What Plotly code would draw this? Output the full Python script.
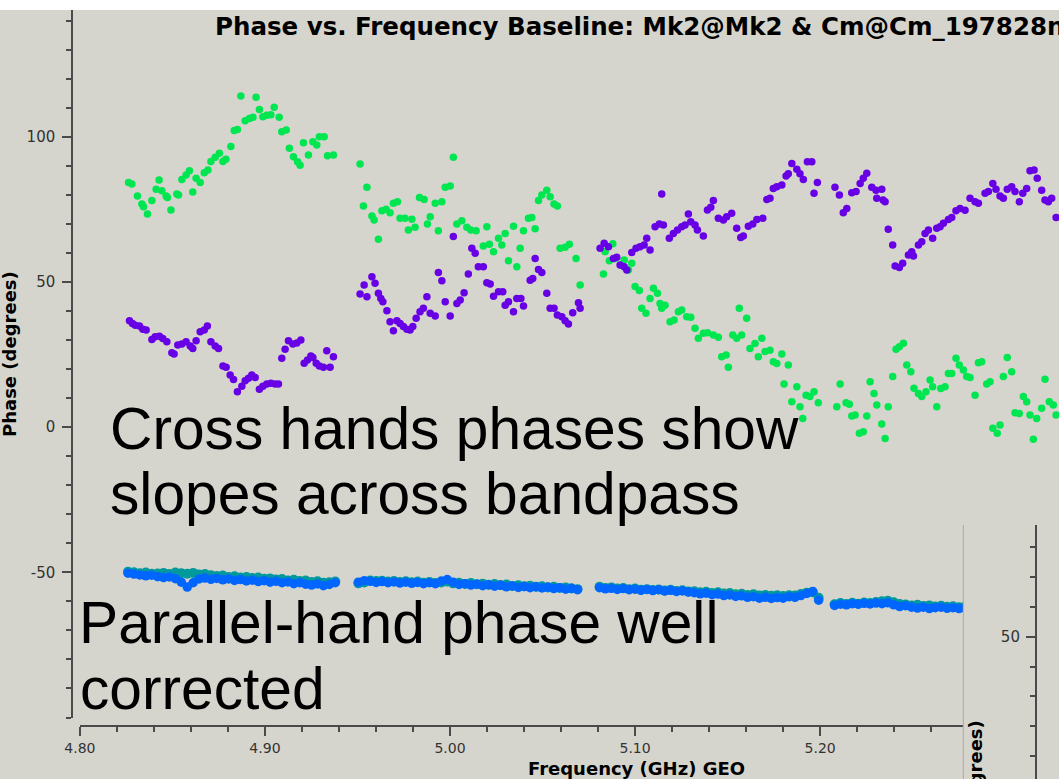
import plotly.graph_objects as go

W, H = 1059, 779

# ---------------------------------------------------------------------------
# Cross-hand correlations (one point per channel, four spectral windows)
# ---------------------------------------------------------------------------
rl_spw1_freq = [4.8263, 4.8281, 4.8311, 4.8335, 4.8344, 4.8365, 4.8389, 4.8412, 4.8428, 4.8443,
                4.8466, 4.8473, 4.8492, 4.8524, 4.8533, 4.8551, 4.8574, 4.8592, 4.8610, 4.8628,
                4.8650, 4.8672, 4.8692, 4.8708, 4.8731, 4.8754, 4.8773, 4.8789, 4.8816, 4.8834,
                4.8851, 4.8870, 4.8893, 4.8916, 4.8935, 4.8952, 4.8970, 4.8989, 4.9010, 4.9032,
                4.9050, 4.9077, 4.9091, 4.9115, 4.9132, 4.9154, 4.9176, 4.9190, 4.9208, 4.9235,
                4.9259, 4.9280, 4.9294, 4.9320, 4.9338, 4.9370]
rl_spw1_phase = [84.2, 83.7, 79.6, 76.8, 75.9, 73.4, 78.0, 81.9, 85.1, 81.4,
                 79.6, 79.1, 74.8, 80.3, 79.9, 85.3, 86.8, 88.3, 81.0, 85.7,
                 84.2, 87.6, 88.5, 91.5, 92.9, 94.3, 91.5, 92.2, 96.6, 102.1,
                 102.5, 114.0, 105.5, 106.3, 106.7, 113.6, 109.4, 106.9, 107.4, 107.6,
                 110.1, 106.7, 101.7, 102.3, 96.0, 93.1, 91.4, 90.2, 97.9, 93.7,
                 98.3, 97.1, 100.0, 100.0, 93.4, 93.7]

rl_spw2_freq = [4.9514, 4.9532, 4.9551, 4.9578, 4.9590, 4.9613, 4.9632, 4.9655, 4.9676, 4.9694,
                4.9716, 4.9730, 4.9757, 4.9775, 4.9794, 4.9811, 4.9835, 4.9860, 4.9878, 4.9893,
                4.9920, 4.9937, 4.9956, 4.9974, 5.0001, 5.0018, 5.0037, 5.0064, 5.0091, 5.0112,
                5.0141, 5.0180, 5.0199, 5.0213, 5.0235, 5.0262, 5.0280, 5.0298, 5.0316, 5.0343,
                5.0361, 5.0379, 5.0397, 5.0424, 5.0442, 5.0460, 5.0478, 5.0496, 5.0523, 5.0541,
                5.0562, 5.0580, 5.0595, 5.0622, 5.0645, 5.0681, 5.0703]
rl_spw2_phase = [90.6, 76.1, 82.6, 72.7, 71.3, 64.7, 74.5, 75.0, 73.8, 77.1,
                 77.6, 71.9, 71.9, 67.9, 71.6, 68.8, 79.1, 78.4, 69.9, 72.4,
                 77.1, 67.6, 77.6, 82.6, 83.0, 92.9, 69.9, 71.1, 68.8, 67.9,
                 67.6, 62.4, 69.0, 63.0, 60.4, 65.0, 62.7, 66.7, 57.3, 69.2,
                 55.2, 61.6, 67.6, 71.9, 72.2, 68.3, 78.0, 79.9, 81.6, 79.3,
                 76.8, 76.1, 61.6, 61.9, 63.0, 58.1, 48.9]

rl_spw3_freq = [5.0829, 5.0838, 5.0861, 5.0880, 5.0892, 5.0923, 5.0941, 5.0964, 5.0982, 5.1000,
                5.1023, 5.1036, 5.1059, 5.1081, 5.1099, 5.1121, 5.1135, 5.1144, 5.1162, 5.1189,
                5.1211, 5.1234, 5.1252, 5.1279, 5.1301, 5.1324, 5.1342, 5.1369, 5.1391, 5.1423,
                5.1450, 5.1468, 5.1492, 5.1504, 5.1528, 5.1549, 5.1563, 5.1576, 5.1603, 5.1621,
                5.1648, 5.1666, 5.1685, 5.1702, 5.1729, 5.1747, 5.1766, 5.1793, 5.1805, 5.1828,
                5.1847, 5.1874, 5.1891, 5.1906, 5.1924, 5.1945, 5.1967, 5.1990]
rl_spw3_phase = [52.7, 60.4, 57.3, 63.1, 58.1, 55.8, 57.5, 54.1, 56.4, 48.4,
                 47.0, 40.9, 39.2, 44.3, 47.8, 46.1, 42.6, 40.9, 42.0, 36.3,
                 36.9, 39.7, 40.3, 38.0, 37.8, 34.0, 30.6, 32.3, 32.5, 31.7,
                 30.9, 24.2, 24.8, 20.6, 31.7, 30.6, 40.9, 31.7, 37.5, 27.1,
                 28.8, 24.2, 30.6, 26.0, 26.5, 22.5, 21.9, 25.2, 14.8, 21.4,
                 8.7, 13.9, 7.0, 3.0, 11.0, 10.5, 12.2, 8.4]

rl_spw4_freq = [5.2090, 5.2108, 5.2140, 5.2158, 5.2171, 5.2189, 5.2212, 5.2233, 5.2252, 5.2270,
                5.2291, 5.2306, 5.2333, 5.2351, 5.2368, 5.2392, 5.2410, 5.2428, 5.2450, 5.2468,
                5.2490, 5.2507, 5.2531, 5.2549, 5.2572, 5.2594, 5.2608, 5.2630, 5.2652, 5.2675,
                5.2693, 5.2711, 5.2734, 5.2752, 5.2774, 5.2792, 5.2810, 5.2837, 5.2855, 5.2873,
                5.2900, 5.2918, 5.2933, 5.2957, 5.2972, 5.2990, 5.3011, 5.3035, 5.3053, 5.3076,
                5.3098, 5.3116, 5.3134, 5.3152, 5.3170, 5.3197, 5.3215, 5.3238, 5.3260, 5.3275]
rl_spw4_phase = [7.0, 14.8, 8.4, 7.9, 3.8, 4.2, -2.1, -1.6, 3.8, 15.6,
                 11.6, 7.6, 1.1, -3.9, 7.0, 17.4, 26.8, 27.7, 28.9, 21.4,
                 19.1, 13.4, 11.6, 10.5, 12.2, 16.2, 13.9, 7.0, 13.3, 13.9,
                 18.5, 18.5, 23.7, 21.4, 19.7, 17.4, 17.1, 11.0, 22.2, 22.5,
                 14.8, 15.6, -0.4, -2.1, 0.7, 17.4, 24.0, 19.1, 4.9, 4.7,
                 10.5, 8.7, 4.2, -4.2, 3.0, 6.5, 16.5, 8.7, 7.6, 4.2]

lr_spw1_freq = [4.8268, 4.8284, 4.8299, 4.8322, 4.8340, 4.8358, 4.8389, 4.8407, 4.8430, 4.8448,
                4.8470, 4.8497, 4.8509, 4.8529, 4.8551, 4.8574, 4.8596, 4.8610, 4.8628, 4.8650,
                4.8672, 4.8689, 4.8708, 4.8731, 4.8749, 4.8773, 4.8790, 4.8812, 4.8830, 4.8851,
                4.8875, 4.8893, 4.8911, 4.8929, 4.8947, 4.8970, 4.8989, 4.9010, 4.9032, 4.9055,
                4.9073, 4.9091, 4.9109, 4.9127, 4.9151, 4.9172, 4.9194, 4.9212, 4.9230, 4.9248,
                4.9259, 4.9277, 4.9294, 4.9316, 4.9334, 4.9352, 4.9370]
lr_spw1_phase = [36.6, 35.7, 35.1, 34.8, 33.7, 33.4, 30.2, 31.1, 31.3, 30.5,
                 29.4, 25.6, 25.2, 28.3, 28.6, 29.4, 27.9, 27.1, 29.7, 32.8,
                 33.4, 34.8, 29.4, 27.9, 27.1, 21.0, 20.6, 17.9, 16.4, 12.2,
                 14.1, 16.0, 16.8, 17.9, 17.1, 13.0, 14.1, 14.8, 15.1, 14.8,
                 14.8, 23.7, 26.8, 29.7, 28.6, 29.0, 30.0, 22.0, 23.1, 24.5,
                 24.0, 22.0, 21.0, 20.6, 26.3, 20.6, 24.2]

lr_spw2_freq = [4.9514, 4.9536, 4.9551, 4.9578, 4.9595, 4.9613, 4.9626, 4.9637, 4.9659, 4.9676,
                4.9694, 4.9713, 4.9730, 4.9748, 4.9767, 4.9784, 4.9799, 4.9817, 4.9838, 4.9856,
                4.9875, 4.9893, 4.9920, 4.9937, 4.9956, 4.9974, 5.0001, 5.0018, 5.0037, 5.0055,
                5.0076, 5.0099, 5.0118, 5.0136, 5.0153, 5.0180, 5.0199, 5.0217, 5.0235, 5.0262,
                5.0285, 5.0298, 5.0316, 5.0343, 5.0361, 5.0383, 5.0397, 5.0433, 5.0447, 5.0460,
                5.0478, 5.0496, 5.0523, 5.0541, 5.0562, 5.0580, 5.0604, 5.0622, 5.0640, 5.0663,
                5.0694, 5.0703]
lr_spw2_phase = [45.8, 48.9, 44.9, 51.8, 49.5, 46.1, 44.3, 43.2, 40.1, 36.3,
                 33.2, 36.6, 35.7, 34.6, 33.7, 33.4, 34.6, 37.5, 39.7, 40.9,
                 44.9, 39.2, 38.3, 53.2, 50.4, 43.2, 38.3, 65.6, 42.6, 43.8,
                 46.3, 52.7, 61.6, 59.9, 55.2, 55.2, 49.7, 49.3, 45.1, 46.6,
                 46.6, 42.0, 43.2, 39.7, 44.3, 44.3, 41.7, 50.6, 51.2, 58.1,
                 54.3, 53.2, 46.1, 40.9, 40.9, 38.6, 38.0, 36.6, 35.5, 39.4,
                 42.8, 40.9]

lr_spw3_freq = [5.0811, 5.0833, 5.0856, 5.0883, 5.0901, 5.0919, 5.0941, 5.0955, 5.0982, 5.1005,
                5.1027, 5.1049, 5.1063, 5.1081, 5.1108, 5.1131, 5.1144, 5.1153, 5.1185, 5.1207,
                5.1229, 5.1252, 5.1270, 5.1288, 5.1301, 5.1324, 5.1337, 5.1369, 5.1391, 5.1409,
                5.1423, 5.1450, 5.1477, 5.1495, 5.1522, 5.1549, 5.1571, 5.1585, 5.1612, 5.1636,
                5.1658, 5.1690, 5.1712, 5.1729, 5.1747, 5.1766, 5.1793, 5.1816, 5.1828, 5.1847,
                5.1874, 5.1891, 5.1909, 5.1931, 5.1955, 5.1967, 5.1985]
lr_spw3_phase = [61.6, 63.3, 62.1, 58.1, 58.5, 55.8, 55.2, 54.1, 60.1, 61.6,
                 62.1, 62.7, 65.0, 61.0, 69.0, 69.9, 80.3, 69.6, 65.0, 66.7,
                 67.9, 69.0, 69.6, 73.4, 70.7, 69.6, 67.9, 65.8, 74.8, 75.7,
                 78.0, 71.9, 71.3, 72.4, 73.6, 68.5, 65.3, 65.8, 69.2, 69.9,
                 71.5, 71.9, 78.4, 78.8, 82.2, 82.8, 83.4, 86.5, 87.2, 90.8,
                 88.8, 87.2, 85.3, 91.4, 91.4, 80.5, 84.2]

lr_spw4_freq = [5.2080, 5.2104, 5.2125, 5.2144, 5.2171, 5.2194, 5.2216, 5.2233, 5.2252, 5.2279,
                5.2302, 5.2306, 5.2333, 5.2340, 5.2351, 5.2368, 5.2392, 5.2405, 5.2428, 5.2446,
                5.2477, 5.2495, 5.2504, 5.2531, 5.2549, 5.2567, 5.2585, 5.2608, 5.2630, 5.2648,
                5.2666, 5.2693, 5.2711, 5.2734, 5.2756, 5.2783, 5.2810, 5.2837, 5.2855, 5.2891,
                5.2909, 5.2933, 5.2950, 5.2972, 5.2990, 5.3011, 5.3035, 5.3053, 5.3076, 5.3095,
                5.3116, 5.3134, 5.3156, 5.3173, 5.3197, 5.3215, 5.3233, 5.3251, 5.3275]
lr_spw4_phase = [82.6, 79.9, 73.8, 75.3, 80.7, 81.1, 83.9, 85.7, 87.4, 82.6,
                 81.6, 78.8, 81.9, 78.2, 77.6, 68.1, 62.7, 55.5, 55.0, 56.4,
                 59.3, 60.4, 58.9, 62.7, 63.8, 66.7, 67.9, 65.0, 68.5, 69.0,
                 70.2, 71.5, 72.2, 74.5, 75.3, 74.7, 78.8, 77.6, 77.1, 80.5,
                 81.1, 83.9, 81.9, 79.6, 78.8, 81.9, 82.8, 81.1, 77.6, 80.5,
                 82.2, 88.3, 88.5, 85.7, 81.6, 78.2, 77.6, 78.8, 72.2]

# ---------------------------------------------------------------------------
# Parallel-hand correlations (shared channel grid per spectral window)
# ---------------------------------------------------------------------------
par_spw1_freq = [4.8260, 4.8292, 4.8324, 4.8356, 4.8388, 4.8420, 4.8452, 4.8484, 4.8516, 4.8548,
                 4.8580, 4.8612, 4.8644, 4.8676, 4.8708, 4.8740, 4.8772, 4.8804, 4.8836, 4.8868,
                 4.8900, 4.8932, 4.8964, 4.8996, 4.9028, 4.9060, 4.9092, 4.9124, 4.9156, 4.9188,
                 4.9220, 4.9252, 4.9284, 4.9316, 4.9348, 4.9380]
rr_spw1_phase = [-50.3, -50.6, -50.9, -51.2, -51.0, -51.5, -51.8, -51.6, -52.2, -53.4,
                 -55.1, -53.6, -52.3, -52.0, -52.4, -52.1, -52.6, -52.3, -52.8, -52.5,
                 -53.0, -52.7, -53.2, -52.9, -53.4, -53.1, -53.6, -53.3, -53.9, -53.6,
                 -54.1, -54.4, -54.0, -54.6, -54.2, -53.6]
ll_spw1_phase = [-49.8, -50.0, -50.3, -50.1, -50.5, -50.4, -50.2, -50.6, -50.1, -50.3,
                 -50.5, -50.2, -50.8, -50.6, -51.0, -51.3, -51.1, -51.6, -51.4, -51.8,
                 -51.6, -52.0, -51.8, -52.2, -52.1, -52.5, -52.3, -52.8, -52.6, -53.0,
                 -52.8, -53.3, -53.1, -53.6, -53.4, -53.2]

par_spw2_freq = [4.9505, 4.9537, 4.9569, 4.9601, 4.9633, 4.9665, 4.9697, 4.9729, 4.9761, 4.9793,
                 4.9825, 4.9857, 4.9889, 4.9921, 4.9953, 4.9985, 5.0017, 5.0049, 5.0081, 5.0113,
                 5.0145, 5.0177, 5.0209, 5.0241, 5.0273, 5.0305, 5.0337, 5.0369, 5.0401, 5.0433,
                 5.0465, 5.0497, 5.0529, 5.0561, 5.0593, 5.0625, 5.0657, 5.0689]
rr_spw2_phase = [-53.4, -52.9, -53.1, -53.5, -53.2, -53.6, -53.3, -53.7, -53.4, -53.8,
                 -53.5, -53.9, -53.6, -53.9, -53.0, -52.5, -53.4, -54.2, -53.9, -54.4,
                 -54.1, -54.6, -54.3, -54.8, -54.5, -55.0, -54.7, -55.2, -54.9, -55.3,
                 -55.0, -55.4, -55.1, -55.6, -55.3, -55.8, -55.5, -56.0]
ll_spw2_phase = [-53.8, -53.5, -52.8, -53.0, -52.9, -53.2, -53.0, -53.3, -53.1, -53.4,
                 -53.2, -53.6, -53.3, -53.7, -53.5, -53.2, -53.8, -53.6, -54.0, -53.7,
                 -54.1, -53.9, -54.3, -54.0, -54.4, -54.2, -54.7, -54.5, -54.8, -54.6,
                 -55.0, -54.8, -55.2, -55.0, -55.4, -55.2, -55.6, -55.8]

par_spw3_freq = [5.0808, 5.0840, 5.0872, 5.0904, 5.0936, 5.0968, 5.1000, 5.1032, 5.1064, 5.1096,
                 5.1128, 5.1160, 5.1192, 5.1224, 5.1256, 5.1288, 5.1320, 5.1352, 5.1384, 5.1416,
                 5.1448, 5.1480, 5.1512, 5.1544, 5.1576, 5.1608, 5.1640, 5.1672, 5.1704, 5.1736,
                 5.1768, 5.1800, 5.1832, 5.1864, 5.1896, 5.1928, 5.1960, 5.1992]
rr_spw3_phase = [-55.3, -55.7, -55.5, -55.9, -55.6, -56.0, -55.8, -56.2, -55.9, -56.3,
                 -56.0, -56.4, -56.2, -56.6, -56.4, -56.8, -57.0, -57.4, -57.2, -57.7,
                 -57.5, -58.0, -57.8, -58.3, -58.1, -58.6, -58.4, -58.9, -58.6, -59.0,
                 -58.7, -58.9, -58.4, -58.6, -58.0, -57.3, -56.6, -59.6]
ll_spw3_phase = [-55.0, -55.4, -55.2, -55.6, -55.4, -55.8, -55.6, -56.0, -55.8, -56.1,
                 -55.9, -56.3, -56.0, -56.4, -56.2, -56.6, -56.5, -56.9, -56.7, -57.1,
                 -56.9, -57.3, -57.1, -57.6, -57.4, -57.8, -57.6, -58.0, -57.8, -58.1,
                 -57.9, -58.2, -57.9, -58.0, -57.5, -57.0, -56.9, -58.8]

par_spw4_freq = [5.2078, 5.2110, 5.2142, 5.2174, 5.2206, 5.2238, 5.2270, 5.2302, 5.2334, 5.2366,
                 5.2398, 5.2430, 5.2462, 5.2494, 5.2526, 5.2558, 5.2590, 5.2622, 5.2654, 5.2686,
                 5.2718, 5.2750, 5.2782, 5.2814, 5.2846]
rr_spw4_phase = [-61.4, -61.0, -61.2, -60.8, -61.0, -60.7, -60.9, -60.6, -60.8, -60.5,
                 -61.2, -61.8, -61.5, -62.0, -62.3, -62.0, -62.5, -62.2, -62.0, -62.4,
                 -62.2, -62.5, -62.3, -62.6, -62.4]
ll_spw4_phase = [-61.0, -60.6, -60.9, -60.5, -60.8, -60.4, -60.6, -60.2, -60.0, -59.8,
                 -60.3, -60.9, -61.1, -61.4, -61.2, -61.6, -61.4, -61.8, -61.5, -61.9,
                 -61.7, -62.0, -61.8, -62.1, -62.0]

rl_freq = rl_spw1_freq + rl_spw2_freq + rl_spw3_freq + rl_spw4_freq
rl_phase = rl_spw1_phase + rl_spw2_phase + rl_spw3_phase + rl_spw4_phase
lr_freq = lr_spw1_freq + lr_spw2_freq + lr_spw3_freq + lr_spw4_freq
lr_phase = lr_spw1_phase + lr_spw2_phase + lr_spw3_phase + lr_spw4_phase
par_freq = par_spw1_freq + par_spw2_freq + par_spw3_freq + par_spw4_freq
rr_phase = rr_spw1_phase + rr_spw2_phase + rr_spw3_phase + rr_spw4_phase
ll_phase = ll_spw1_phase + ll_spw2_phase + ll_spw3_phase + ll_spw4_phase
assert len(rl_freq) == len(rl_phase) and len(lr_freq) == len(lr_phase)
assert len(par_freq) == len(rr_phase) == len(ll_phase)

# ---------------------------------------------------------------------------
# Geometry (pixels on the 1059 x 779 canvas)
# ---------------------------------------------------------------------------
def px_x(x):
    return x / W


def px_y(y):
    return 1 - y / H


F0, X0, PX_PER_GHZ = 4.80, 79.7, 1851.0      # frequency scale
X_END = 963.0                                # right end of the frequency axis line
DEG_REF, Y_REF, PX_PER_DEG = 100.0, 136.7, 2.904
Y_TOP, Y_BOT = 10.0, 718.0                   # phase axis extent
X_AXIS_Y = 726.0
Y_AXIS_X = 72.0

x_range = [F0 - 0.0001, F0 + (X_END - X0) / PX_PER_GHZ]
x2_range = [F0 - 0.0001, F0 + (W - X0) / PX_PER_GHZ]
y_range = [DEG_REF - (Y_BOT - Y_REF) / PX_PER_DEG, DEG_REF + (Y_REF - Y_TOP) / PX_PER_DEG]

BG = "#d6d5cd"
AX = "#4a4a4a"
XTICKFONT = dict(family="DejaVu Sans", size=14, color="#333333")
YTICKFONT = dict(family="DejaVu Sans", size=15, color="#333333")
GREEN = "#00e650"
PURPLE = "#6800e6"
BLUE = "#0066ff"
TEAL = "#00999c"

fig = go.Figure()

# parallel hands: clipped at the end of the frequency axis
fig.add_trace(go.Scatter(x=par_freq, y=ll_phase, mode="markers", name="LL",
                         marker=dict(color=TEAL, size=10, line=dict(width=0)),
                         xaxis="x", yaxis="y"))
fig.add_trace(go.Scatter(x=par_freq, y=rr_phase, mode="markers", name="RR",
                         marker=dict(color=BLUE, size=9.5, line=dict(width=0)),
                         xaxis="x", yaxis="y"))
# cross hands: drawn on a wider copy of the frequency scale
fig.add_trace(go.Scatter(x=rl_freq, y=rl_phase, mode="markers", name="RL",
                         marker=dict(color=GREEN, size=7.5, line=dict(width=0)),
                         xaxis="x2", yaxis="y"))
fig.add_trace(go.Scatter(x=lr_freq, y=lr_phase, mode="markers", name="LR",
                         marker=dict(color=PURPLE, size=7.5, line=dict(width=0)),
                         xaxis="x2", yaxis="y"))
# neighbouring panel's phase axis
fig.add_trace(go.Scatter(x=[], y=[], mode="markers", xaxis="x3", yaxis="y3",
                         showlegend=False))

tick_style = dict(ticks="outside", tickcolor=AX, tickwidth=1.5, ticklen=9,
                  showline=True, linecolor=AX, linewidth=1.5,
                  showgrid=False, zeroline=False)
minor_style = dict(ticks="outside", tickmode="linear", ticklen=5, tickwidth=1.5,
                   tickcolor=AX, showgrid=False)

fig.update_layout(
    width=W, height=H,
    margin=dict(l=0, r=0, t=0, b=0, autoexpand=False),
    paper_bgcolor=BG, plot_bgcolor="rgba(0,0,0,0)",
    showlegend=False,
    xaxis=dict(domain=[px_x(X0), px_x(X_END)], range=x_range,
               anchor="free", position=px_y(X_AXIS_Y), automargin=False,
               tickmode="linear", tick0=4.8, dtick=0.1, tickformat=".2f",
               tickfont=XTICKFONT,
               minor=dict(tick0=4.8, dtick=0.02, **minor_style),
               **tick_style),
    xaxis2=dict(domain=[px_x(X0), 1.0], range=x2_range, visible=False, anchor="y"),
    yaxis=dict(domain=[px_y(Y_BOT), px_y(Y_TOP)], range=y_range,
               anchor="free", position=px_x(Y_AXIS_X), automargin=False,
               tickmode="array", tickvals=[-50, 0, 50, 100],
               ticktext=["-50", "0", "50", "100"], ticklabelstandoff=4,
               tickfont=YTICKFONT,
               minor=dict(tick0=0, dtick=10, **minor_style),
               **tick_style),
    xaxis3=dict(domain=[px_x(964), 1.0], range=[0, 1], visible=False, anchor="y3"),
    yaxis3=dict(domain=[0, px_y(525)], range=[50 - (779 - 636.7) / 2.98, 50 + (636.7 - 525) / 2.98],
                anchor="free", position=px_x(1035.7), automargin=False,
                tickmode="array", tickvals=[50], ticktext=["50"], ticklabelstandoff=3,
                tickfont=YTICKFONT,
                minor=dict(tick0=0, dtick=10, **minor_style),
                **tick_style),
)

# white strip above the plot window, separator of the neighbouring panel
fig.add_shape(type="rect", xref="paper", yref="paper", x0=0, x1=1, y0=px_y(10), y1=1,
              fillcolor="white", line=dict(width=0), layer="below")
fig.add_shape(type="line", xref="paper", yref="paper", x0=px_x(963.3), x1=px_x(963.3),
              y0=0, y1=px_y(525), line=dict(color="#a8a8a4", width=1))

bold = dict(family="DejaVu Sans", color="black", weight="bold")

fig.add_annotation(text="Phase vs. Frequency Baseline: Mk2@Mk2 & Cm@Cm_197828n",
                   xref="paper", yref="paper", x=px_x(213), y=px_y(10),
                   xanchor="left", yanchor="top", showarrow=False,
                   font=dict(size=24.5, **bold))
fig.add_annotation(text="Phase (degrees)", textangle=-90,
                   xref="paper", yref="paper", x=px_x(9), y=px_y(354),
                   xanchor="center", yanchor="middle", showarrow=False,
                   font=dict(size=18, **bold))
fig.add_annotation(text="Frequency (GHz) GEO",
                   xref="paper", yref="paper", x=px_x(636), y=px_y(768),
                   xanchor="center", yanchor="middle", showarrow=False,
                   font=dict(size=18, **bold))
fig.add_annotation(text="Phase (degrees)", textangle=-90,
                   xref="paper", yref="paper", x=px_x(975), y=px_y(718),
                   xanchor="center", yanchor="top", showarrow=False,
                   font=dict(size=18, **bold))

big = dict(family="Liberation Sans", size=58.7, color="black")
for text, x, y in [("Cross hands phases show", 107.5, 394.3),
                   ("slopes across bandpass", 108.0, 459.3),
                   ("Parallel-hand phase well", 76.5, 587.7),
                   ("corrected", 78.0, 654.3)]:
    fig.add_annotation(text=text, xref="paper", yref="paper", x=px_x(x), y=px_y(y),
                       xanchor="left", yanchor="top", showarrow=False, font=big)

fig.write_html("out.html")
